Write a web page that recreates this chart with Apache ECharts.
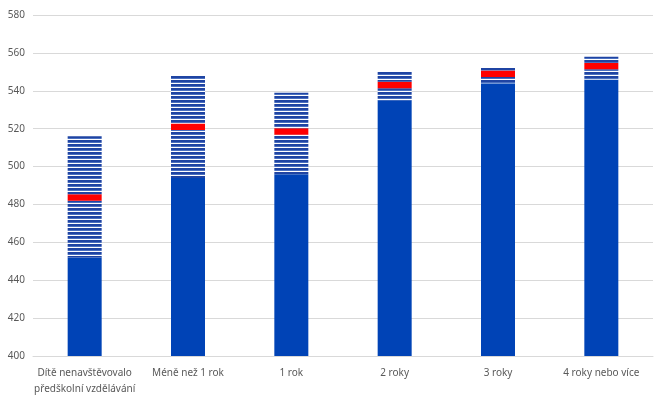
<!DOCTYPE html>
<html>
<head>
<meta charset="utf-8">
<script src="https://cdn.jsdelivr.net/npm/echarts@6/dist/echarts.min.js"></script>
<style>
  html, body { margin: 0; padding: 0; background: #fff; }
  #chart { width: 662px; height: 397px; }
</style>
</head>
<body>
<div id="chart"></div>
<script>
  // kategorie a hodnoty (dolní mez, průměr, horní mez)
  const categories = ['Dítě nenavštěvovalo\npředškolní vzdělávání', 'Méně než 1 rok', '1 rok', '2 roky', '3 roky', '4 roky nebo více'];
  const lower = [452, 494, 496, 535, 544, 546];
  const mean = [483.7, 521, 518.5, 543, 549, 553];
  const upper = [516, 548, 539, 550, 552, 558];
  const yTicks = [400, 420, 440, 460, 480, 500, 520, 540, 560, 580];

  const half = 1.7; // polovina šířky červeného pruhu

  // vzor vodorovných pruhů
  const pat = document.createElement('canvas');
  pat.width = 4; pat.height = 4;
  const ctx = pat.getContext('2d');
  ctx.fillStyle = '#ffffff'; ctx.fillRect(0, 0, 4, 4);
  ctx.fillStyle = '#1f44a3'; ctx.fillRect(0, 0, 4, 2);
  ctx.fillStyle = '#4a6fbf'; ctx.fillRect(0, 2, 4, 1);

  const stripe = { image: pat, repeat: 'repeat' };

  const chart = echarts.init(document.getElementById('chart'));
  const option = {
    animation: false,
    grid: { left: 33, right: 9, top: 15, bottom: 41 },
    xAxis: {
      type: 'category',
      data: categories,
      axisLine: { lineStyle: { color: '#d9d9d9' } },
      axisTick: { show: false },
      axisLabel: { color: '#595959', fontSize: 10, fontFamily: 'Noto Sans', lineHeight: 16, margin: 9, interval: 0 }
    },
    yAxis: {
      type: 'value',
      min: yTicks[0],
      max: yTicks[yTicks.length - 1],
      interval: 20,
      axisLine: { show: false },
      axisTick: { show: false },
      splitLine: { lineStyle: { color: '#d9d9d9' } },
      axisLabel: { color: '#595959', fontSize: 10, fontFamily: 'Noto Sans', margin: 8 }
    },
    series: [
      {
        type: 'bar', stack: 'a', barWidth: 34,
        itemStyle: { color: '#0043b6' },
        data: lower
      },
      {
        type: 'bar', stack: 'a', barWidth: 34,
        itemStyle: { color: stripe },
        data: mean.map((m, i) => m - half - lower[i])
      },
      {
        type: 'bar', stack: 'a', barWidth: 34,
        itemStyle: { color: '#ff0000' },
        data: mean.map(() => half * 2)
      },
      {
        type: 'bar', stack: 'a', barWidth: 34,
        itemStyle: { color: stripe },
        data: upper.map((u, i) => u - mean[i] - half)
      }
    ]
  };
  chart.setOption(option);
</script>
</body>
</html>
